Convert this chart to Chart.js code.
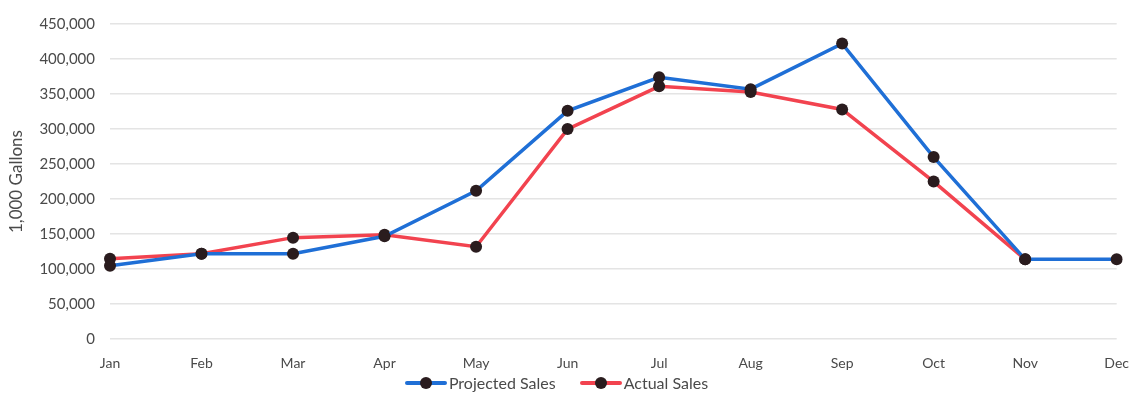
<!DOCTYPE html>
<html>
<head>
<meta charset="utf-8">
<script src="https://cdn.jsdelivr.net/npm/chart.js@4/dist/chart.umd.min.js"></script>
<style>
  html, body { margin: 0; padding: 0; background: #fff; }
  #wrap { width: 1137px; height: 396px; position: relative; }
  #legend {
    position: absolute; left: 0; right: 0; top: 373px;
    display: flex; justify-content: center; gap: 24px; padding-right: 24px;
    font: 16px Lato, "Open Sans", sans-serif; color: #4a4a4a;
  }
  .item { display: flex; align-items: center; }
  .swatch { position: relative; width: 42px; height: 4px; margin-right: 2px; border-radius: 2px; }
  .swatch::after {
    content: ''; position: absolute; left: 15px; top: -4px;
    width: 12px; height: 12px; border-radius: 50%; background: #2a1c1e;
  }
</style>
</head>
<body>
<div id="wrap">
  <canvas id="sales"></canvas>
  <div id="legend"></div>
</div>
<script>
// Monthly sales, in 1,000 gallons
const months = ['Jan', 'Feb', 'Mar', 'Apr', 'May', 'Jun', 'Jul', 'Aug', 'Sep', 'Oct', 'Nov', 'Dec'];
const projectedSales = [105000, 122000, 122000, 147000, 212000, 326000, 374000, 357000, 422000, 260000, 114000, 114000];
const actualSales = [115000, 122000, 145000, 149000, 132000, 300000, 361000, 353000, 328000, 225000, 114000, null];
const yTicks = [0, 50000, 100000, 150000, 200000, 250000, 300000, 350000, 400000, 450000];

const BLUE = '#1f6fd6';
const RED = '#f2434f';
const MARKER = '#2a1c1e';
const TEXT = '#4a4a4a';
const FONT = 'Lato, "Open Sans", sans-serif';

const chart = new Chart(document.getElementById('sales'), {
  type: 'line',
  data: {
    labels: months,
    datasets: [
      {
        label: 'Projected Sales',
        data: projectedSales,
        borderColor: BLUE,
        backgroundColor: BLUE,
        borderWidth: 3.5,
        pointRadius: 6,
        pointBackgroundColor: MARKER,
        pointBorderColor: MARKER,
        pointBorderWidth: 0,
        tension: 0
      },
      {
        label: 'Actual Sales',
        data: actualSales,
        borderColor: RED,
        backgroundColor: RED,
        borderWidth: 3.5,
        pointRadius: 6,
        pointBackgroundColor: MARKER,
        pointBorderColor: MARKER,
        pointBorderWidth: 0,
        tension: 0
      }
    ]
  },
  options: {
    responsive: true,
    maintainAspectRatio: false,
    animation: false,
    layout: { padding: { top: 4, right: 20, bottom: 16, left: 6 } },
    plugins: {
      legend: { display: false },
      tooltip: { enabled: false }
    },
    scales: {
      x: {
        offset: false,
        grid: { display: false },
        border: { display: false },
        ticks: {
          color: TEXT,
          padding: 8,
          maxRotation: 0,
          font: { family: FONT, size: 14 }
        }
      },
      y: {
        min: 0,
        max: 450000,
        afterFit: scale => { scale.width = 104; },
        afterBuildTicks: scale => { scale.ticks = yTicks.map(v => ({ value: v })); },
        grid: { color: '#e4e4e4', lineWidth: 1.5, drawTicks: false },
        border: { display: false },
        title: {
          display: true,
          text: '1,000 Gallons',
          color: TEXT,
          padding: 0,
          font: { family: FONT, size: 17 }
        },
        ticks: {
          color: TEXT,
          padding: 15,
          font: { family: FONT, size: 15 },
          callback: v => v.toLocaleString('en-US')
        }
      }
    }
  }
});

// legend: a line swatch with a dot, followed by the series name
const legendEl = document.getElementById('legend');
chart.data.datasets.forEach(ds => {
  const item = document.createElement('div');
  item.className = 'item';
  const sw = document.createElement('span');
  sw.className = 'swatch';
  sw.style.background = ds.borderColor;
  const label = document.createElement('span');
  label.textContent = ds.label;
  item.appendChild(sw);
  item.appendChild(label);
  legendEl.appendChild(item);
});
</script>
</body>
</html>
